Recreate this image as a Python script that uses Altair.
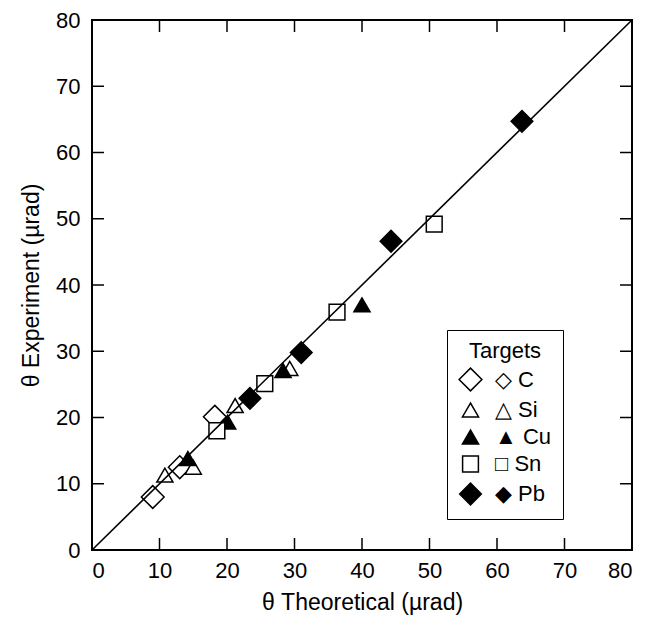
import altair as alt
import pandas as pd

targets = ["C", "Si", "Cu", "Sn", "Pb"]
glyphs = ["◇", "△", "▲", "□", "◆"]
c_theo = [9.0, 13.0, 18.2]
c_exp = [8.0, 12.5, 20.1]
si_theo = [10.8, 15.0, 21.2, 29.3]
si_exp = [11.3, 12.5, 21.8, 27.4]
cu_theo = [14.2, 20.1, 28.3, 40.0]
cu_exp = [13.8, 19.3, 27.1, 37.0]
sn_theo = [18.5, 25.6, 36.3, 50.7]
sn_exp = [18.0, 25.1, 35.9, 49.2]
pb_theo = [23.4, 31.0, 44.3, 63.7]
pb_exp = [22.9, 29.8, 46.6, 64.7]
tick_values = [10, 20, 30, 40, 50, 60, 70]
line_vals = [0, 80]

labels = [g + " " + t for g, t in zip(glyphs, targets)]
rows = []
for lab, xs, ys in zip(labels, [c_theo, si_theo, cu_theo, sn_theo, pb_theo],
                       [c_exp, si_exp, cu_exp, sn_exp, pb_exp]):
    for a, b in zip(xs, ys):
        rows.append({"x": a, "y": b, "target": lab})
pts = pd.DataFrame(rows)
ticks = pd.DataFrame({"t": tick_values})
line = pd.DataFrame({"x": line_vals, "y": line_vals})

W, H = 540, 530
FONT = "Liberation Sans"
TL = 12

xscale = alt.Scale(domain=[0, 80], nice=False, zero=False)
yscale = alt.Scale(domain=[0, 80], nice=False, zero=False)
xtitle = "θ Theoretical (µrad)"
ytitle = "θ Experiment (µrad)"
xaxis = alt.Axis(values=list(range(0, 81, 10)), title=xtitle)
yaxis = alt.Axis(values=list(range(0, 81, 10)), title=ytitle)

legend = alt.Legend(title="Targets", orient="none", legendX=355, legendY=310,
                    strokeColor="black", fillColor="white", padding=11)

lineplot = alt.Chart(line).mark_line(color="black", strokeWidth=1.6).encode(
    x=alt.X("x:Q", scale=xscale, axis=xaxis),
    y=alt.Y("y:Q", scale=yscale, axis=yaxis),
)

shape_range = ["diamond", "triangle-up", "triangle-up", "square", "diamond"]
fill_range = ["white", "white", "black", "white", "black"]
stroke_range = ["black", "black", "black", "black", "black"]
size_range = [520, 260, 260, 250, 470]

points = alt.Chart(pts).mark_point(filled=True, strokeWidth=1.5, opacity=1).encode(
    x=alt.X("x:Q", scale=xscale, axis=xaxis),
    y=alt.Y("y:Q", scale=yscale, axis=yaxis),
    shape=alt.Shape("target:N", scale=alt.Scale(domain=labels, range=shape_range), legend=legend),
    fill=alt.Fill("target:N", scale=alt.Scale(domain=labels, range=fill_range), legend=legend),
    stroke=alt.Stroke("target:N", scale=alt.Scale(domain=labels, range=stroke_range), legend=legend),
    size=alt.Size("target:N", scale=alt.Scale(type="ordinal", domain=labels, range=size_range),
                  legend=legend),
)

bottom = alt.Chart(ticks).mark_rule(color="black", strokeWidth=1.5).encode(
    x=alt.X("t:Q", scale=xscale, axis=xaxis), y=alt.value(H), y2=alt.value(H - TL))
top = alt.Chart(ticks).mark_rule(color="black", strokeWidth=1.5).encode(
    x=alt.X("t:Q", scale=xscale, axis=xaxis), y=alt.value(0), y2=alt.value(TL))
left = alt.Chart(ticks).mark_rule(color="black", strokeWidth=1.5).encode(
    y=alt.Y("t:Q", scale=yscale, axis=yaxis), x=alt.value(0), x2=alt.value(TL))
right = alt.Chart(ticks).mark_rule(color="black", strokeWidth=1.5).encode(
    y=alt.Y("t:Q", scale=yscale, axis=yaxis), x=alt.value(W), x2=alt.value(W - TL))

chart = alt.layer(points, lineplot, bottom, top, left, right).properties(
    width=W, height=H,
    autosize=alt.AutoSizeParams(type="none"),
    padding={"left": 84, "top": 12, "right": 9, "bottom": 66},
).configure_view(
    stroke="black", strokeWidth=2
).configure_axis(
    domain=False, ticks=False, tickSize=0, grid=False,
    labelFont=FONT, labelFontSize=22, labelColor="black",
    titleFont=FONT, titleFontSize=23, titleColor="black", titleFontWeight="normal",
).configure_axisX(
    labelPadding=10, titlePadding=10,
).configure_axisY(
    labelPadding=12, titlePadding=12,
).configure_legend(
    titleFont=FONT, titleFontSize=22, titleFontWeight="normal", titleColor="black",
    titleAnchor="middle", titlePadding=4,
    labelFont=FONT, labelFontSize=22, labelColor="black",
    labelOffset=12,
    symbolStrokeColor="black", symbolStrokeWidth=1.5, rowPadding=5,
)

chart.save("out.html", embed_options={"renderer": "svg", "actions": False})
